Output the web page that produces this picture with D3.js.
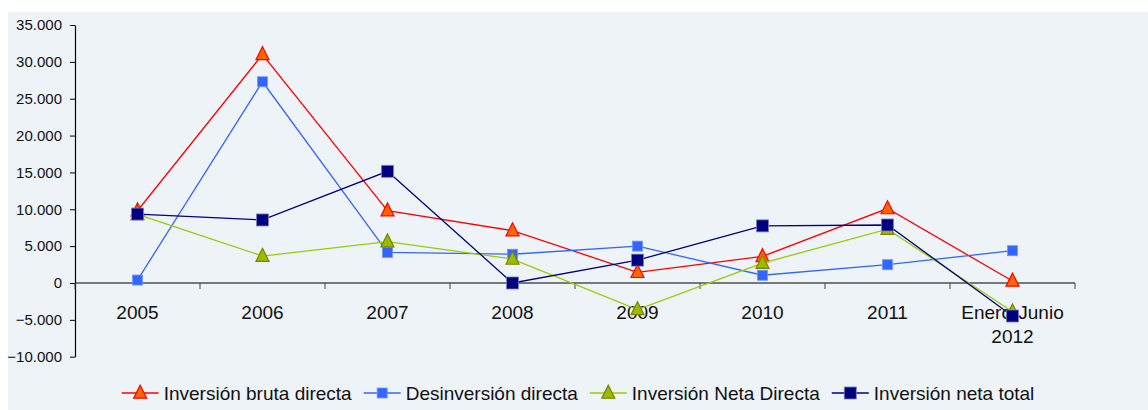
<!DOCTYPE html>
<html>
<head>
<meta charset="utf-8">
<script src="https://cdn.jsdelivr.net/npm/d3@7"></script>
<style>
  body { margin: 0; background: #fff; }
  svg { display: block; font-family: "Liberation Sans", Arial, sans-serif; }
  .y-axis text { font-size: 15px; fill: #111; }
  .x-axis text { font-size: 19px; fill: #111; }
  .legend text { font-size: 19px; fill: #111; }
</style>
</head>
<body>
<div id="chart"></div>
<script>
// Categories and series
var categories = ["2005", "2006", "2007", "2008", "2009", "2010", "2011", "Enero-Junio 2012"];

var brutaDirecta   = [9800, 31000, 9800, 7100, 1450, 3600, 10100, 270];
var desinversion   = [400, 27300, 4150, 3900, 5000, 1050, 2480, 4380];
var netaDirecta    = [9300, 3650, 5600, 3250, -3600, 2700, 7300, -3900];
var netaTotal      = [9350, 8550, 15150, 0, 3100, 7750, 7870, -4480];

var seriesNames = ["Inversión bruta directa", "Desinversión directa", "Inversión Neta Directa", "Inversión neta total"];
var yTicks = [-10000, -5000, 0, 5000, 10000, 15000, 20000, 25000, 30000, 35000];

var styles = [
  {line: "#ff0000", fill: "#ff6600", stroke: "#ff0000", shape: "triangle", size: 13},
  {line: "#3366ff", fill: "#3366ff", stroke: "#6f95ff", shape: "square", size: 10},
  {line: "#99cc00", fill: "#99bb00", stroke: "#808000", shape: "triangle", size: 13},
  {line: "#000080", fill: "#000080", stroke: "#7f7fbf", shape: "square", size: 12}
];

var series = [brutaDirecta, desinversion, netaDirecta, netaTotal].map(function(vals, i) {
  return {
    name: seriesNames[i],
    style: styles[i],
    values: vals.map(function(v, j) { return {cat: categories[j], value: v}; })
  };
});

var W = 1148, H = 410;
var svg = d3.select('#chart').append('svg')
            .attr('width', W)
            .attr('height', H);

// panel background
svg.append('rect')
   .attr('x', 8).attr('y', 12)
   .attr('width', W - 8).attr('height', H - 12)
   .attr('fill', '#eef3f8');

var plotLeft = 75, plotRight = 1075, plotTop = 25, plotBottom = 356.7;

var x = d3.scaleBand()
          .domain(categories)
          .range([plotLeft, plotRight]);

var y = d3.scaleLinear()
          .domain([-10000, 35000])
          .range([plotBottom, plotTop]);

var fmt = function(d) {
  return d3.format(",")(d).replace(/,/g, ".");
};

// y axis
var yAxis = d3.axisLeft(y)
              .tickValues(yTicks)
              .tickFormat(fmt)
              .tickSizeInner(5)
              .tickSizeOuter(0)
              .tickPadding(8);

svg.append('g')
   .attr('class', 'y-axis')
   .attr('transform', 'translate(' + plotLeft + ',0)')
   .call(yAxis)
   .call(function(g) {
     g.select('.domain').attr('stroke', '#000').attr('stroke-width', 1.2);
     g.selectAll('line').attr('stroke', '#000');
   });

// x axis at zero, ticks on band boundaries
var xAxisG = svg.append('g')
   .attr('class', 'x-axis')
   .attr('transform', 'translate(0,' + y(0) + ')');

xAxisG.append('line')
   .attr('x1', plotLeft).attr('x2', plotRight)
   .attr('stroke', '#000').attr('stroke-width', 1.2);

var bounds = categories.map(function(c) { return x(c); }).concat([plotRight]);
xAxisG.selectAll('.tick-b')
   .data(bounds)
   .enter().append('line')
   .attr('x1', function(d) { return d; })
   .attr('x2', function(d) { return d; })
   .attr('y1', 0).attr('y2', 6)
   .attr('stroke', '#444');

var lbl = xAxisG.selectAll('.lbl')
   .data(categories)
   .enter().append('text')
   .attr('text-anchor', 'middle')
   .attr('x', function(d) { return x(d) + x.bandwidth() / 2; })
   .attr('y', 36);

lbl.each(function(d) {
  var parts = d === "Enero-Junio 2012" ? ["Enero-Junio", "2012"] : [d];
  var t = d3.select(this);
  parts.forEach(function(p, i) {
    t.append('tspan')
     .attr('x', x(d) + x.bandwidth() / 2)
     .attr('dy', i === 0 ? 0 : 24)
     .text(p);
  });
});

function drawMarker(sel, st) {
  if (st.shape === "triangle") {
    var s = st.size;
    sel.append('path')
       .attr('d', 'M0,' + (-s * 0.6) + 'L' + (s / 2) + ',' + (s * 0.4) + 'L' + (-s / 2) + ',' + (s * 0.4) + 'Z')
       .attr('fill', st.fill)
       .attr('stroke', st.stroke)
       .attr('stroke-width', 1.2);
  } else {
    sel.append('rect')
       .attr('x', -st.size / 2).attr('y', -st.size / 2)
       .attr('width', st.size).attr('height', st.size)
       .attr('fill', st.fill)
       .attr('stroke', st.stroke)
       .attr('stroke-width', 0.8);
  }
}

var line = d3.line()
             .x(function(d) { return x(d.cat) + x.bandwidth() / 2; })
             .y(function(d) { return y(d.value); });

series.forEach(function(s) {
  var g = svg.append('g');
  g.append('path')
   .datum(s.values)
   .attr('d', line)
   .attr('fill', 'none')
   .attr('stroke', s.style.line)
   .attr('stroke-width', 1.3);

  g.selectAll('.pt')
   .data(s.values)
   .enter().append('g')
   .attr('transform', function(d) {
     return 'translate(' + (x(d.cat) + x.bandwidth() / 2) + ',' + y(d.value) + ')';
   })
   .each(function() { drawMarker(d3.select(this), s.style); });
});

// legend, centred in the panel
var legend = svg.append('g').attr('class', 'legend');
var items = legend.selectAll('.item')
   .data(series)
   .enter().append('g');

items.append('line')
   .attr('x1', 0).attr('x2', 37)
   .attr('y1', 0).attr('y2', 0)
   .attr('stroke', function(d) { return d.style.line; })
   .attr('stroke-width', 1.3);

items.append('g')
   .attr('transform', 'translate(18.5,0)')
   .each(function(d) { drawMarker(d3.select(this), d.style); });

items.append('text')
   .attr('x', 42)
   .attr('y', 7)
   .text(function(d) { return d.name; });

var offsets = [], pos = 0;
items.each(function() {
  offsets.push(pos);
  pos += 42 + this.querySelector('text').getComputedTextLength() + 12;
});
var total = pos - 12;
var startX = (8 + W) / 2 - total / 2;
items.attr('transform', function(d, i) {
  return 'translate(' + (startX + offsets[i]) + ',393)';
});
</script>
</body>
</html>
